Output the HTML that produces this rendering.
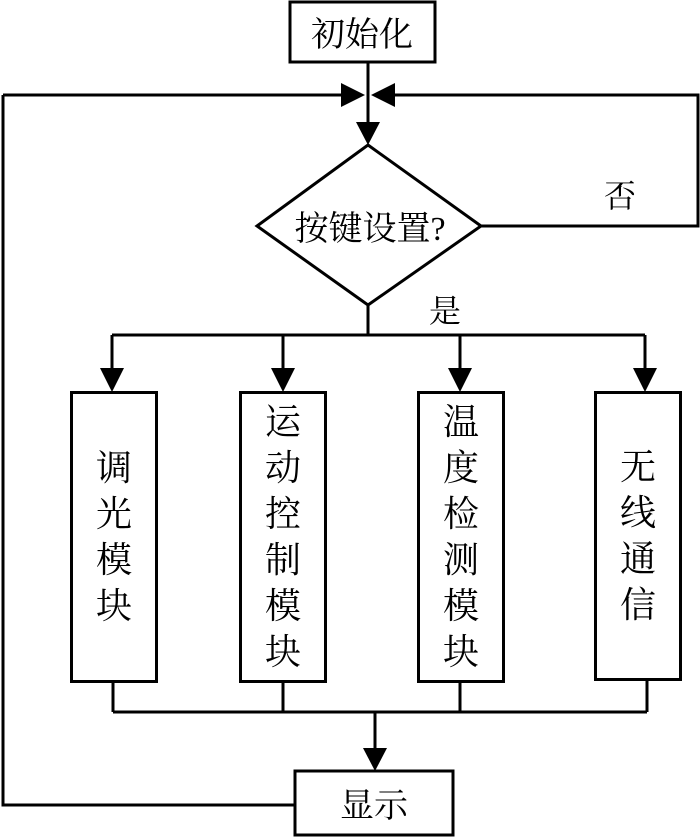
<!DOCTYPE html>
<html><head><meta charset="utf-8"><style>
body{margin:0;background:#fff;}
.t{font-family:"Liberation Serif","Noto Serif CJK SC",serif;fill:#000;}
.box{position:absolute;border:3px solid #000;box-sizing:border-box;display:flex;flex-direction:column;align-items:center;justify-content:center;font-family:"Liberation Serif","Noto Serif CJK SC",serif;font-size:36px;line-height:46px;background:#fff;}
</style></head><body>
<div style="position:relative;width:700px;height:839px;overflow:hidden;">
<svg width="700" height="839" style="position:absolute;left:0;top:0" xmlns="http://www.w3.org/2000/svg">
<g stroke="#000" stroke-width="3" fill="none">
<rect x="290" y="2" width="145" height="60"/>
<line x1="368" y1="62" x2="368" y2="125"/>
<polyline points="3,95 345,95"/>
<polyline points="390,95 698,95 698,226 481,226"/>
<polyline points="3,95 3,805 295,805"/>
<polygon points="368,145 481,226 368,305 257,226"/>
<line x1="368" y1="305" x2="368" y2="335"/>
<line x1="112" y1="335" x2="645" y2="335"/>
<line x1="112" y1="335" x2="112" y2="370"/>
<line x1="283" y1="335" x2="283" y2="370"/>
<line x1="460" y1="335" x2="460" y2="370"/>
<line x1="645" y1="335" x2="645" y2="370"/>
<line x1="113" y1="682" x2="113" y2="712"/>
<line x1="283" y1="682" x2="283" y2="712"/>
<line x1="460" y1="682" x2="460" y2="712"/>
<line x1="647" y1="680" x2="647" y2="712"/>
<line x1="113" y1="712" x2="647" y2="712"/>
<line x1="375" y1="712" x2="375" y2="750"/>
<rect x="295" y="771" width="158" height="64"/>
</g>
<g fill="#000">
<polygon points="341,83 341,107 365,95"/>
<polygon points="395,83 395,107 371,95"/>
<polygon points="356,122 380,122 368,145"/>
<polygon points="100,368 124,368 112,392"/>
<polygon points="271,368 295,368 283,392"/>
<polygon points="448,368 472,368 460,392"/>
<polygon points="633,368 657,368 645,392"/>
<polygon points="363,748 387,748 375,771"/>
</g>
<text class="t" x="362" y="46" font-size="34" text-anchor="middle">初始化</text>
<text class="t" x="370" y="240" font-size="34" text-anchor="middle">按键设置?</text>
<text class="t" x="620" y="207" font-size="32" text-anchor="middle">否</text>
<text class="t" x="445" y="322" font-size="32" text-anchor="middle">是</text>
<text class="t" x="374" y="817" font-size="34" text-anchor="middle">显示</text>
</svg>
<div class="box" style="left:70px;top:391px;width:88px;height:292px;"><span>调</span><span>光</span><span>模</span><span>块</span></div>
<div class="box" style="left:239px;top:391px;width:88px;height:292px;"><span>运</span><span>动</span><span>控</span><span>制</span><span>模</span><span>块</span></div>
<div class="box" style="left:417px;top:391px;width:88px;height:292px;"><span>温</span><span>度</span><span>检</span><span>测</span><span>模</span><span>块</span></div>
<div class="box" style="left:594px;top:391px;width:88px;height:290px;"><span>无</span><span>线</span><span>通</span><span>信</span></div>
</div>
</body></html>
